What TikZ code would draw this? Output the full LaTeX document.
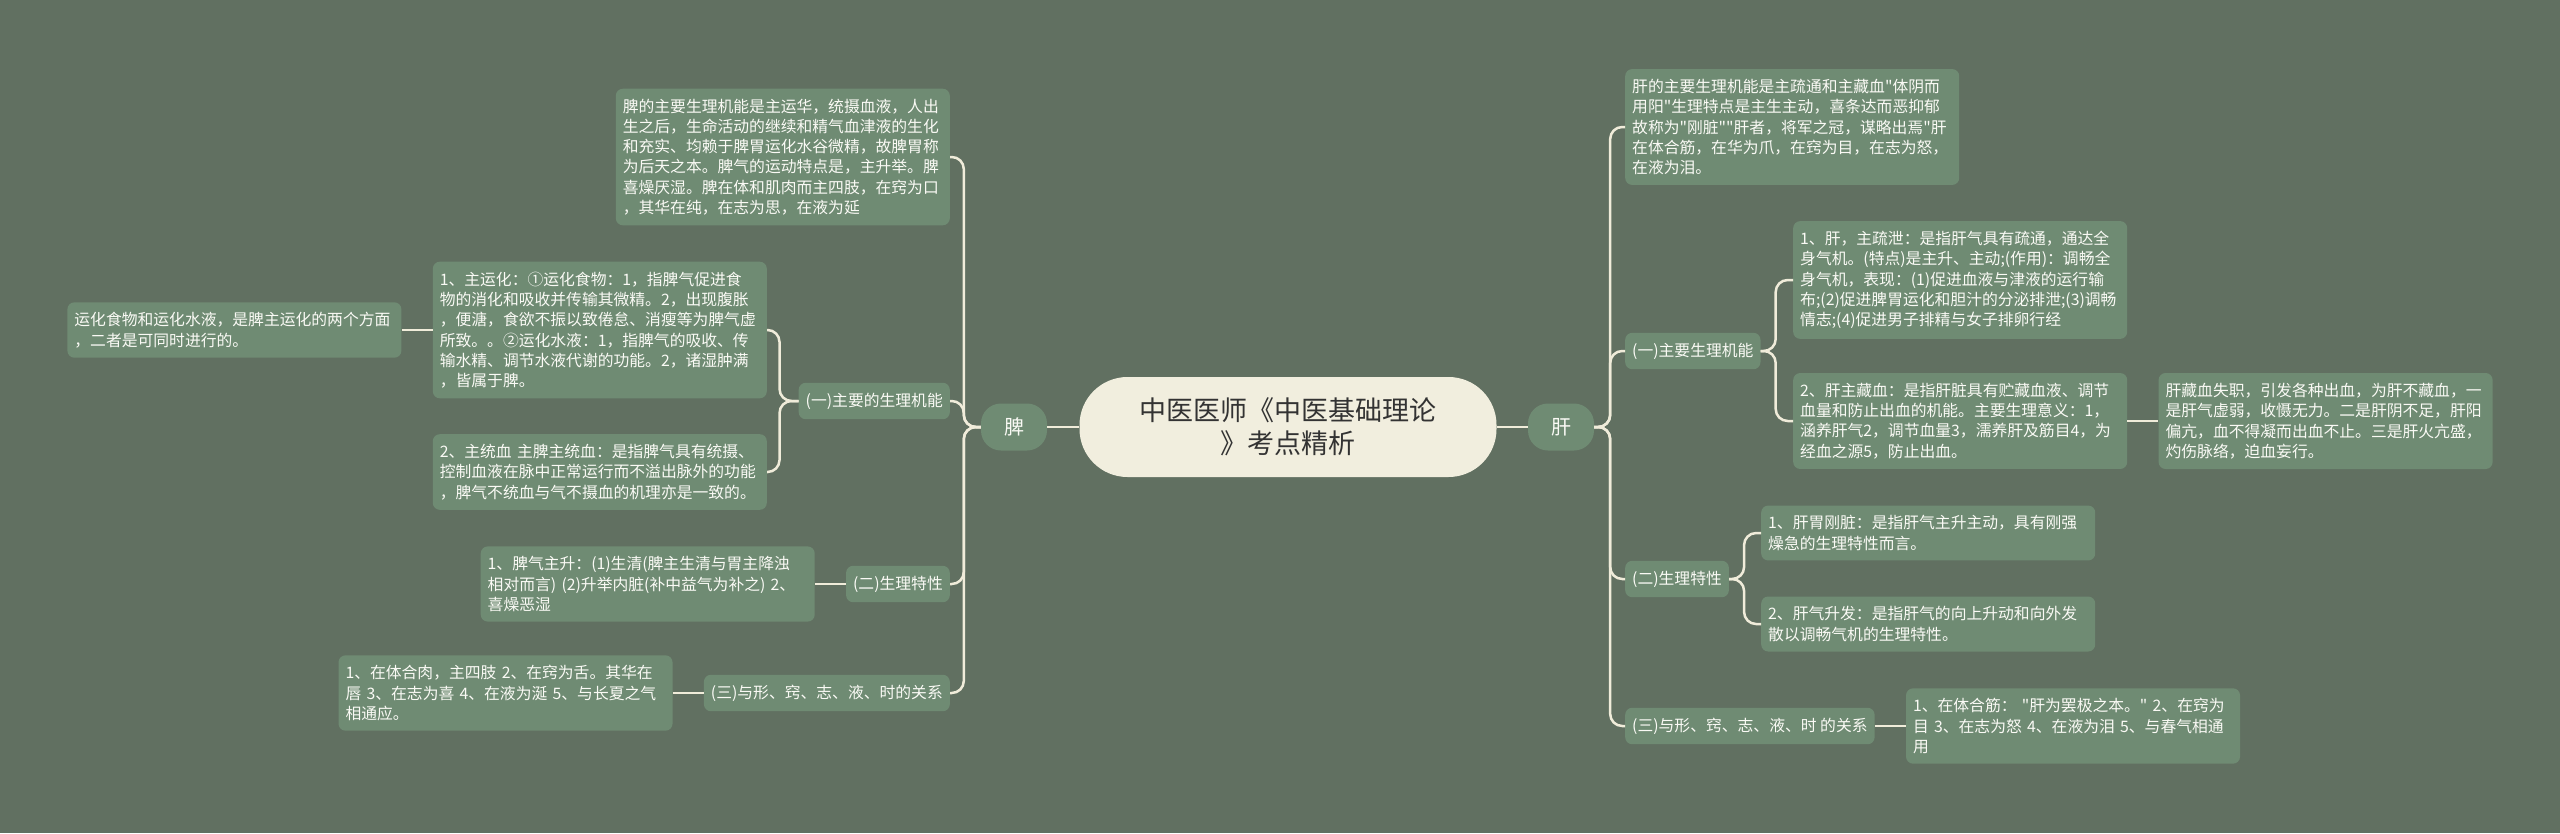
\documentclass[tikz,border=0pt]{standalone}
\usepackage{fontspec}
\setmainfont{Noto Sans CJK SC}[Ligatures=TeXOff]
\usepackage{tikz}
\usetikzlibrary{positioning}
\definecolor{bgcol}{RGB}{97,112,97}
\definecolor{boxcol}{RGB}{111,139,115}
\definecolor{linecol}{RGB}{240,236,218}
\definecolor{maincol}{RGB}{241,238,222}
\definecolor{txtcol}{RGB}{250,250,245}

\begin{document}
\begin{tikzpicture}[
    x=1pt, y=-1pt,
    node distance=31pt,
    box/.style={fill=boxcol, text=txtcol, rounded corners=7pt, inner xsep=7pt, inner ysep=10pt,
        font=\fontsize{15.8}{20.3}\selectfont},
    leaf/.style={box, text width=320pt, align=left},
    branch/.style={box, align=center},
    sub/.style={fill=boxcol, text=txtcol, rounded corners=20pt, minimum width=66pt, minimum height=47pt,
        font=\fontsize{20}{24}\selectfont},
    topic/.style={fill=maincol, text=black!80, rounded corners=48pt, minimum width=417pt, minimum height=100pt,
        align=center, font=\fontsize{27}{33}\selectfont},
    link/.style={draw=linecol, line width=2.5pt, rounded corners=12pt}
]
\fill[bgcol] (0,0) rectangle (2560,833);
\useasboundingbox (0,0) rectangle (2560,833);

\node[topic] (main) at (1288,427) {中医医师《中医基础理论\\》考点精析};
\node[sub] (pi) at (1014,427) {脾};
\node[sub] (gan) at (1561,427) {肝};

% 脾
\node[leaf, anchor=east] (piA) at (950,157) {脾的主要生理机能是主运华，统摄血液，人出\\生之后，生命活动的继续和精气血津液的生化\\和充实、均赖于脾胃运化水谷微精，故脾胃称\\为后天之本。脾气的运动特点是，主升举。脾\\喜燥厌湿。脾在体和肌肉而主四肢，在窍为口\\，其华在纯，在志为思，在液为延};
\node[branch, anchor=east] (pi1) at (950,401) {(一)主要的生理机能};
\node[branch, anchor=east] (pi2) at (950,584) {(二)生理特性};
\node[branch, anchor=east] (pi3) at (950,693) {(三)与形、窍、志、液、时的关系};
\node[leaf, anchor=east] (pi1a) at (767,330) {1、主运化：①运化食物：1，指脾气促进食\\物的消化和吸收并传输其微精。2，出现腹胀\\，便溏，食欲不振以致倦怠、消瘦等为脾气虚\\所致。。②运化水液：1，指脾气的吸收、传\\输水精、调节水液代谢的功能。2，诸湿肿满\\，皆属于脾。};
\node[leaf, anchor=east] (pi1b) at (767,472) {2、主统血 主脾主统血：是指脾气具有统摄、\\控制血液在脉中正常运行而不溢出脉外的功能\\，脾气不统血与气不摄血的机理亦是一致的。};
\node[leaf, left=of pi1a] (pi1a1) {运化食物和运化水液，是脾主运化的两个方面\\，二者是可同时进行的。};
\node[leaf, left=of pi2] (pi2a) {1、脾气主升：(1)生清(脾主生清与胃主降浊\\相对而言) (2)升举内脏(补中益气为补之) 2、\\喜燥恶湿};
\node[leaf, left=of pi3] (pi3a) {1、在体合肉，主四肢 2、在窍为舌。其华在\\唇 3、在志为喜 4、在液为涎 5、与长夏之气\\相通应。};

% 肝
\node[leaf, anchor=west] (ganA) at (1625,127) {肝的主要生理机能是主疏通和主藏血"体阴而\\用阳"生理特点是主生主动，喜条达而恶抑郁\\故称为"刚脏""肝者，将军之冠，谋略出焉"肝\\在体合筋，在华为爪，在窍为目，在志为怒，\\在液为泪。};
\node[branch, anchor=west] (gan1) at (1625,351) {(一)主要生理机能};
\node[branch, anchor=west] (gan2) at (1625,579) {(二)生理特性};
\node[branch, anchor=west] (gan3) at (1625,726) {(三)与形、窍、志、液、时 的关系};
\node[leaf, anchor=west] (gan1a) at (1793,280) {1、肝，主疏泄：是指肝气具有疏通，通达全\\身气机。(特点)是主升、主动;(作用)：调畅全\\身气机，表现：(1)促进血液与津液的运行输\\布;(2)促进脾胃运化和胆汁的分泌排泄;(3)调畅\\情志;(4)促进男子排精与女子排卵行经};
\node[leaf, anchor=west] (gan1b) at (1793,421) {2、肝主藏血：是指肝脏具有贮藏血液、调节\\血量和防止出血的机能。主要生理意义：1，\\涵养肝气2，调节血量3，濡养肝及筋目4，为\\经血之源5，防止出血。};
\node[leaf, right=of gan1b] (gan1b1) {肝藏血失职，引发各种出血，为肝不藏血，一\\是肝气虚弱，收慑无力。二是肝阴不足，肝阳\\偏亢，血不得凝而出血不止。三是肝火亢盛，\\灼伤脉络，迫血妄行。};
\node[leaf, anchor=west] (gan2a) at (1761,533) {1、肝胃刚脏：是指肝气主升主动，具有刚强\\燥急的生理特性而言。};
\node[leaf, anchor=west] (gan2b) at (1761,624) {2、肝气升发：是指肝气的向上升动和向外发\\散以调畅气机的生理特性。};
\node[leaf, right=of gan3] (gan3a) {1、在体合筋：~"肝为罢极之本。"~2、在窍为\\目~3、在志为怒~4、在液为泪~5、与春气相通\\用};

\draw[link] (main.west) -- (pi.east);
\draw[link] (main.east) -- (gan.west);
\foreach \n in {piA,pi1,pi2,pi3}
    \draw[link] (pi.west) -- ++(-17,0) |- (\n.east);
\foreach \n in {pi1a,pi1b}
    \draw[link] (pi1.west) -- ++(-19,0) |- (\n.east);
\draw[link] (pi1a.west) -- (pi1a1.east);
\draw[link] (pi2.west) -- (pi2a.east);
\draw[link] (pi3.west) -- (pi3a.east);
\foreach \n in {ganA,gan1,gan2,gan3}
    \draw[link] (gan.east) -- ++(16,0) |- (\n.west);
\foreach \n in {gan1a,gan1b}
    \draw[link] (gan1.east) -- ++(15,0) |- (\n.west);
\foreach \n in {gan2a,gan2b}
    \draw[link] (gan2.east) -- ++(15,0) |- (\n.west);
\draw[link] (gan1b.east) -- (gan1b1.west);
\draw[link] (gan3.east) -- (gan3a.west);
\end{tikzpicture}
\end{document}
